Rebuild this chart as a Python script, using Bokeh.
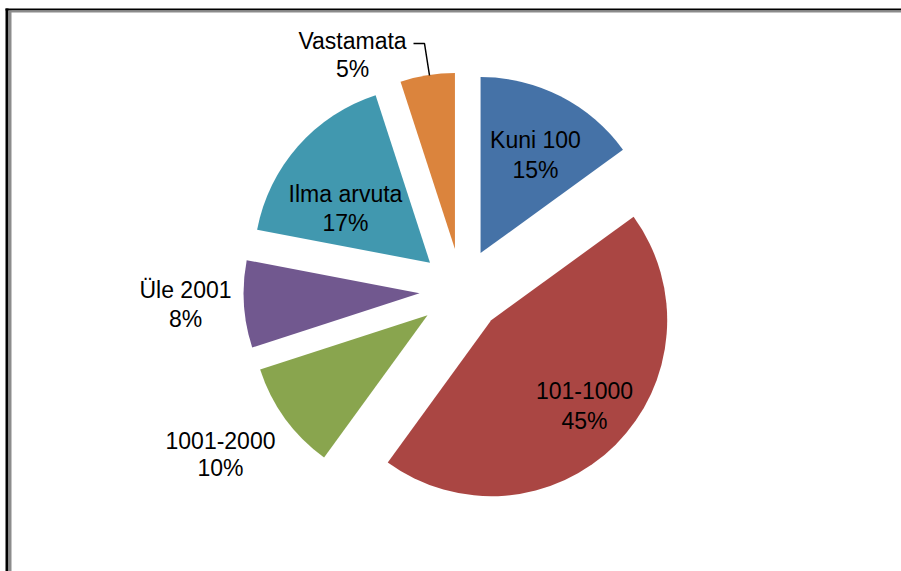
import numpy as np
from bokeh.plotting import figure
from bokeh.models import ColumnDataSource, Range1d
from bokeh.core.properties import value
from bokeh.embed import file_html
from bokeh.resources import INLINE

# ---- data ----
categories = ["Kuni 100", "101-1000", "1001-2000", "Üle 2001", "Ilma arvuta", "Vastamata"]
shares = [15, 45, 10, 8, 17, 5]
colors = ["#4572A7", "#AA4643", "#89A54E", "#71588F", "#4198AF", "#DB843D"]

# ---- layout (screen pixel coordinates of the reference) ----
W, H = 901, 571
OX, OY = 0, 0          # page position of the figure's top-left corner
def sx(X):
    return X - OX
def sy(Y):
    return H - (Y - OY)

CX, CY = 461, 290      # pie centre (screen)
R = 176
EXPLODE = 42
label_name_xy = [(535, 139), (584, 390), (220, 440), (185, 289), (345, 193), (352, 40)]
label_pct_xy = [(535, 169), (584, 420), (220, 467), (185, 318), (345, 222), (352, 68)]

vals = np.array(shares, dtype=float)
cum = np.cumsum(vals)
th2 = 360.0 * cum / vals.sum()
th1 = th2 - 360.0 * vals / vals.sum()
mid = np.radians((th1 + th2) / 2)
vx = sx(CX) + EXPLODE * np.sin(mid)
vy = sy(CY) + EXPLODE * np.cos(mid)

src = ColumnDataSource(dict(
    x=vx, y=vy,
    start=np.radians(90 - th2), end=np.radians(90 - th1),
    color=colors,
))

p = figure(width=W, height=H, output_backend="svg", toolbar_location=None,
           x_range=Range1d(0, W), y_range=Range1d(0, H),
           x_axis_type=None, y_axis_type=None, min_border=0,
           outline_line_color=None, background_fill_color="white",
           border_fill_color="white")
p.grid.visible = False

p.wedge(x="x", y="y", radius=R, start_angle="start", end_angle="end",
        fill_color="color", line_color=None, source=src)

# frame lines
p.segment(x0=[sx(6.5)], y0=[sy(8)], x1=[sx(6.5)], y1=[-10], line_color="black", line_width=3)
p.segment(x0=[sx(9.5)], y0=[sy(10)], x1=[sx(9.5)], y1=[-10], line_color="#8c8c8c", line_width=3)
p.segment(x0=[sx(5)], y0=[sy(9)], x1=[W + 5], y1=[sy(9)], line_color="black", line_width=2)
p.segment(x0=[sx(8)], y0=[sy(11)], x1=[W + 5], y1=[sy(11)], line_color="#8c8c8c", line_width=2)

# leader line for small slice
p.line(x=[sx(413), sx(424), sx(429)], y=[sy(43), sy(43), sy(75)], line_color="black", line_width=1.5)

lab = ColumnDataSource(dict(
    nx=[sx(a) for a, b in label_name_xy], ny=[sy(b) for a, b in label_name_xy],
    px=[sx(a) for a, b in label_pct_xy], py=[sy(b) for a, b in label_pct_xy],
    name=categories, pct=[f"{int(v)}%" for v in shares],
))
for xk, yk, tk in (("nx", "ny", "name"), ("px", "py", "pct")):
    p.text(x=xk, y=yk, text=tk, source=lab, text_font=value("Liberation Sans"),
           text_font_size="23px", text_color="#000000", text_align="center",
           text_baseline="middle")

open("out.html", "w").write(file_html(p, INLINE))
